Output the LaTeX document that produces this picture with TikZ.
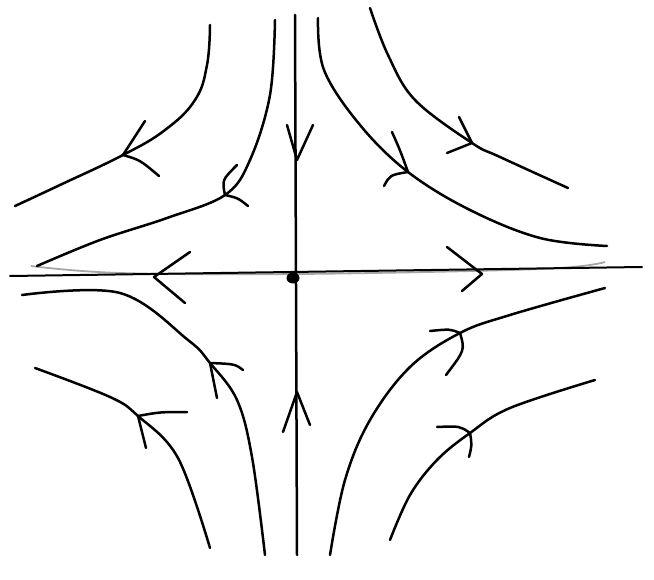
\documentclass[tikz,border=0pt]{standalone}
\usepackage{tikz}
\usetikzlibrary{shapes.geometric}

\begin{document}
\begin{tikzpicture}[x=1pt, y=-1pt, traj/.style={line width=2.5pt, line cap=round, line join=round}, chev/.style={line width=2.5pt, line cap=round, line join=round}, faint/.style={line width=1.8pt, gray!70}]
    \useasboundingbox (0,0) rectangle (654,580);

    % axes and the equilibrium
    \draw[faint] plot[smooth, tension=0.6] coordinates {(31,266) (120,273) (300,274) (540,269) (605,262)};
    \draw[traj, line width=2pt] (10,276) -- (642,267);
    \draw[traj] (295,15) -- (297,555);
    \node[ellipse, fill, inner sep=0pt, minimum width=13pt, minimum height=11pt] (O) at (293,278) {};

    % arrows on the axes
    \draw[chev] (287,125) -- (297,160) -- (313,125);
    \draw[chev] (283,432) -- (297,392) -- (310,425);
    \draw[chev] (190,252) -- (154,277) -- (185,303);
    \draw[chev] (447,247) -- (482,274) -- (462,291);

    % upper left
    \draw[traj] plot[smooth, tension=0.7] coordinates {(210,25) (207,65) (195,100) (165,130) (123,155) (60,185) (15,206)};
    \draw[chev] (145,121) -- (123,155) .. controls (140,160) .. (159,176);
    \draw[traj] plot[smooth, tension=0.6] coordinates {(275,20) (270,95) (250,160) (225,195) (167,218) (100,240) (37,266)};
    \draw[chev] (237,165) .. controls (222,180) .. (225,195) .. controls (238,198) .. (248,206);

    % upper right
    \draw[traj] plot[smooth, tension=0.6] coordinates {(318,18) (324,70) (360,125) (408,172) (470,210) (540,238) (607,246)};
    \draw[chev] (392,132) .. controls (400,150) .. (408,172) .. controls (390,175) .. (384,186);
    \draw[traj] plot[smooth, tension=0.6] coordinates {(370,8) (388,55) (415,100) (472,143) (500,157) (568,188)};
    \draw[chev] (459,117) .. controls (465,130) .. (472,143) -- (447,153);

    % lower left
    \draw[traj] plot[smooth, tension=0.6] coordinates {(22,295) (120,293) (188,340) (210,363) (237,400) (252,457) (265,555)};
    \draw[chev] (217,398) -- (210,363) .. controls (235,364) .. (243,370);
    \draw[traj] plot[smooth, tension=0.6] coordinates {(35,368) (110,397) (138,416) (178,458) (210,548)};
    \draw[chev] (146,448) -- (138,416) .. controls (160,412) .. (187,412);

    % lower right
    \draw[traj] plot[smooth, tension=0.6] coordinates {(605,288) (510,315) (460,333) (410,367) (370,420) (345,480) (330,555)};
    \draw[chev] (430,331) .. controls (450,329) .. (460,333) .. controls (465,350) .. (446,375);
    \draw[traj] plot[smooth, tension=0.6] coordinates {(595,380) (510,408) (470,433) (437,460) (410,495) (390,540)};
    \draw[chev] (437,427) .. controls (460,426) .. (470,433) .. controls (472,445) .. (469,457);
\end{tikzpicture}
\end{document}
